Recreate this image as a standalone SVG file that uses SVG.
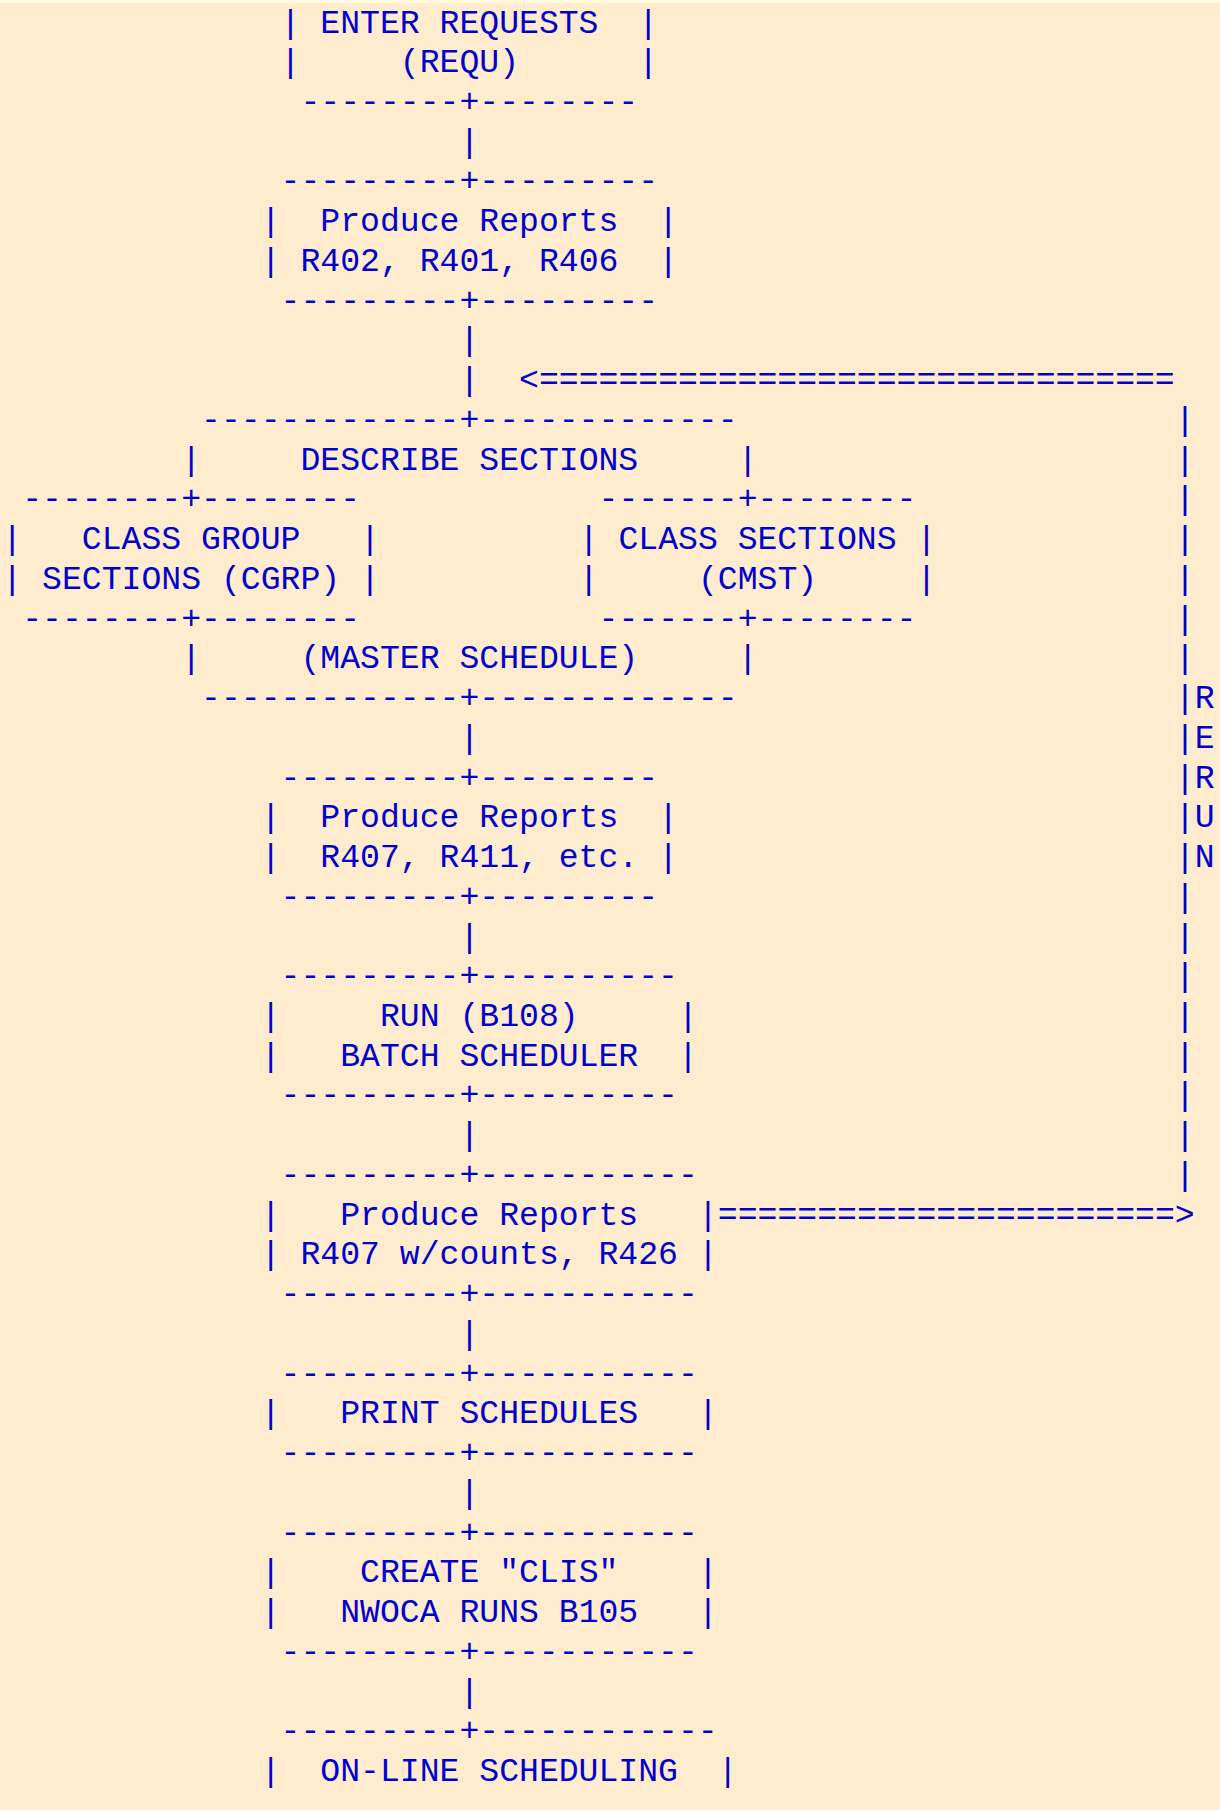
<svg xmlns="http://www.w3.org/2000/svg" width="1220" height="1810" viewBox="0 0 1220 1810">
<style>
text { font-family: "Liberation Mono", "Courier New", monospace; font-size: 33.12px; fill: #0000cd; white-space: pre; }
</style>
<rect x="0" y="0" width="1220" height="1810" fill="#ffebcd"/>
<rect x="0" y="0" width="1220" height="3" fill="#fffae0"/>

<g id="node-requ">
<text x="280.59" y="32.5">|</text><text x="320.34" y="32.5">ENTER REQUESTS</text><text x="638.31" y="32.5">|</text>
<text x="280.59" y="72.24">|</text><text x="399.83" y="72.24">(REQU)</text><text x="638.31" y="72.24">|</text>
<text x="300.47" y="111.98">--------+--------</text>
</g>

<g id="node-reports-r402">
<text x="280.59" y="191.46">---------+---------</text>
<text x="260.72" y="231.2">|</text><text x="320.34" y="231.2">Produce Reports</text><text x="658.18" y="231.2">|</text>
<text x="260.72" y="270.94">|</text><text x="300.47" y="270.94">R402, R401, R406</text><text x="658.18" y="270.94">|</text>
<text x="280.59" y="310.68">---------+---------</text>
</g>

<g id="node-describe">
<text x="201.1" y="429.9">-------------+-------------</text>
<text x="181.23" y="469.64">|</text><text x="300.47" y="469.64">DESCRIBE SECTIONS</text><text x="737.67" y="469.64">|</text>
<text x="181.23" y="668.34">|</text><text x="300.47" y="668.34">(MASTER SCHEDULE)</text><text x="737.67" y="668.34">|</text>
<text x="201.1" y="708.08">-------------+-------------</text>
</g>

<g id="node-cgrp">
<text x="22.24" y="509.38">--------+--------</text>
<text x="2.37" y="549.12">|</text><text x="81.86" y="549.12">CLASS GROUP</text><text x="360.08" y="549.12">|</text>
<text x="2.37" y="588.86">|</text><text x="42.12" y="588.86">SECTIONS (CGRP)</text><text x="360.08" y="588.86">|</text>
<text x="22.24" y="628.6">--------+--------</text>
</g>

<g id="node-cmst">
<text x="598.56" y="509.38">-------+--------</text>
<text x="578.69" y="549.12">|</text><text x="618.43" y="549.12">CLASS SECTIONS</text><text x="916.53" y="549.12">|</text>
<text x="578.69" y="588.86">|</text><text x="697.93" y="588.86">(CMST)</text><text x="916.53" y="588.86">|</text>
<text x="598.56" y="628.6">-------+--------</text>
</g>

<g id="node-reports-r407">
<text x="280.59" y="787.56">---------+---------</text>
<text x="260.72" y="827.3">|</text><text x="320.34" y="827.3">Produce Reports</text><text x="658.18" y="827.3">|</text>
<text x="260.72" y="867.04">|</text><text x="320.34" y="867.04">R407, R411, etc.</text><text x="658.18" y="867.04">|</text>
<text x="280.59" y="906.78">---------+---------</text>
</g>

<g id="node-batch">
<text x="280.59" y="986.26">---------+----------</text>
<text x="260.72" y="1026">|</text><text x="379.96" y="1026">RUN (B108)</text><text x="678.05" y="1026">|</text>
<text x="260.72" y="1065.74">|</text><text x="340.21" y="1065.74">BATCH SCHEDULER</text><text x="678.05" y="1065.74">|</text>
<text x="280.59" y="1105.48">---------+----------</text>
</g>

<g id="node-reports-counts">
<text x="280.59" y="1184.96">---------+-----------</text>
<text x="260.72" y="1224.7">|</text><text x="340.21" y="1224.7">Produce Reports</text><text x="697.93" y="1224.7">|</text>
<text x="260.72" y="1264.44">|</text><text x="300.47" y="1264.44">R407 w/counts, R426</text><text x="697.93" y="1264.44">|</text>
<text x="280.59" y="1304.18">---------+-----------</text>
</g>

<g id="node-print">
<text x="280.59" y="1383.66">---------+-----------</text>
<text x="260.72" y="1423.4">|</text><text x="340.21" y="1423.4">PRINT SCHEDULES</text><text x="697.93" y="1423.4">|</text>
<text x="280.59" y="1463.14">---------+-----------</text>
</g>

<g id="node-clis">
<text x="280.59" y="1542.62">---------+-----------</text>
<text x="260.72" y="1582.36">|</text><text x="360.08" y="1582.36">CREATE "CLIS"</text><text x="697.93" y="1582.36">|</text>
<text x="260.72" y="1622.1">|</text><text x="340.21" y="1622.1">NWOCA RUNS B105</text><text x="697.93" y="1622.1">|</text>
<text x="280.59" y="1661.84">---------+-----------</text>
</g>

<g id="node-online">
<text x="280.59" y="1741.32">---------+------------</text>
<text x="260.72" y="1781.06">|</text><text x="320.34" y="1781.06">ON-LINE SCHEDULING</text><text x="717.8" y="1781.06">|</text>
</g>

<g id="connectors">
<text x="459.45" y="151.72">|</text>
<text x="459.45" y="350.42">|</text>
<text x="459.45" y="390.16">|</text>
<text x="459.45" y="747.82">|</text>
<text x="459.45" y="946.52">|</text>
<text x="459.45" y="1145.22">|</text>
<text x="459.45" y="1343.92">|</text>
<text x="459.45" y="1502.88">|</text>
<text x="459.45" y="1701.58">|</text>
<text x="519.07" y="390.16">&lt;================================</text>
<text x="717.8" y="1224.7">=======================&gt;</text>
<text x="1174.88"><tspan x="1174.88" y="429.9">|</tspan><tspan x="1174.88" y="469.64">|</tspan><tspan x="1174.88" y="509.38">|</tspan><tspan x="1174.88" y="549.12">|</tspan><tspan x="1174.88" y="588.86">|</tspan><tspan x="1174.88" y="628.6">|</tspan><tspan x="1174.88" y="668.34">|</tspan><tspan x="1174.88" y="708.08">|</tspan><tspan x="1174.88" y="747.82">|</tspan><tspan x="1174.88" y="787.56">|</tspan><tspan x="1174.88" y="827.3">|</tspan><tspan x="1174.88" y="867.04">|</tspan><tspan x="1174.88" y="906.78">|</tspan><tspan x="1174.88" y="946.52">|</tspan><tspan x="1174.88" y="986.26">|</tspan><tspan x="1174.88" y="1026">|</tspan><tspan x="1174.88" y="1065.74">|</tspan><tspan x="1174.88" y="1105.48">|</tspan><tspan x="1174.88" y="1145.22">|</tspan><tspan x="1174.88" y="1184.96">|</tspan></text>
<text x="1194.75"><tspan x="1194.75" y="708.08">R</tspan><tspan x="1194.75" y="747.82">E</tspan><tspan x="1194.75" y="787.56">R</tspan><tspan x="1194.75" y="827.3">U</tspan><tspan x="1194.75" y="867.04">N</tspan></text>
</g>
</svg>
